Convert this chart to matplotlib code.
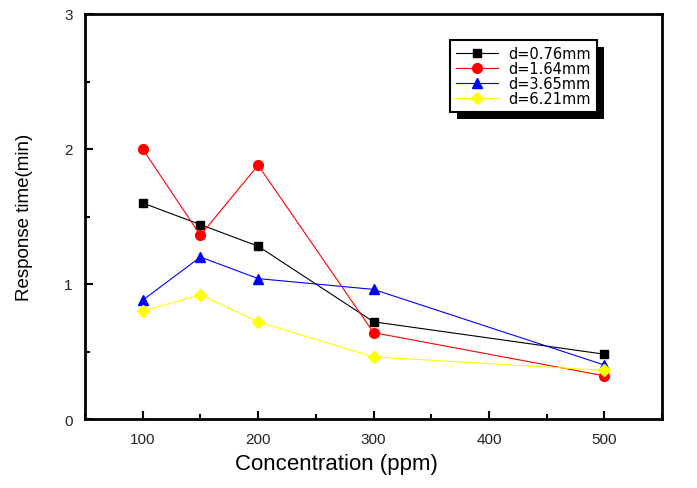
import matplotlib.pyplot as plt
from matplotlib.patches import Rectangle
from matplotlib.ticker import MultipleLocator

# data
conc = [100, 150, 200, 300, 500]
d076 = [1.60, 1.44, 1.28, 0.72, 0.48]
d164 = [2.00, 1.36, 1.88, 0.64, 0.32]
d365 = [0.88, 1.20, 1.04, 0.96, 0.40]
d621 = [0.80, 0.92, 0.72, 0.46, 0.36]
labels = ['d=0.76mm', 'd=1.64mm', 'd=3.65mm', 'd=6.21mm']

plt.rcParams['font.family'] = ['Liberation Sans', 'DejaVu Sans']

fig = plt.figure(figsize=(6.97, 4.89), dpi=100)
ax = fig.add_axes([85/697, 1-420/489, 577/697, 405/489])

series = [(d076, 'black', 's', 6),
          (d164, 'red', 'o', 7),
          (d365, 'blue', '^', 7),
          (d621, '#FFFF00', 'D', 6)]
for (ys, c, m, ms), lab in zip(series, labels):
    ax.plot(conc, ys, color=c, marker=m, markersize=ms, lw=0.8, label=lab)

ax.set_xlim(50, 550)
ax.set_ylim(0, 3)
ax.xaxis.set_major_locator(MultipleLocator(100))
ax.xaxis.set_minor_locator(MultipleLocator(50))
ax.yaxis.set_major_locator(MultipleLocator(1))
ax.yaxis.set_minor_locator(MultipleLocator(0.5))
ax.tick_params(which='major', direction='in', length=6, width=1.5,
               labelsize=11, labelcolor='#222222', pad=9)
ax.tick_params(which='minor', direction='in', length=3.5, width=1.5)
for s in ax.spines.values():
    s.set_linewidth(2)

ax.set_xlabel('Concentration (ppm)', fontsize=16)
ax.xaxis.set_label_coords(0.435, -0.085)
ax.set_ylabel('Response time(min)', fontsize=13.5)
ax.yaxis.set_label_coords(-0.09, 0.5)

leg = ax.legend(loc='upper left', bbox_to_anchor=(0.633, 0.935),
                prop={'family': 'DejaVu Sans', 'size': 10.5},
                frameon=True, fancybox=False, edgecolor='black', framealpha=1,
                handlelength=2.9, handletextpad=0.7, labelspacing=0.0,
                borderpad=0.4, borderaxespad=0)
leg.get_frame().set_linewidth(1.5)
leg.set_zorder(6)

# drop shadow behind the legend box
fig.canvas.draw()
bb = leg.get_window_extent().transformed(ax.transAxes.inverted())
dx = 7 / 577
dy = 7 / 405
ax.add_patch(Rectangle((bb.x0 + dx, bb.y0 - dy), bb.width, bb.height,
                       transform=ax.transAxes, facecolor='black',
                       edgecolor='none', zorder=5, clip_on=False))

fig.savefig('out.png', dpi=100)
